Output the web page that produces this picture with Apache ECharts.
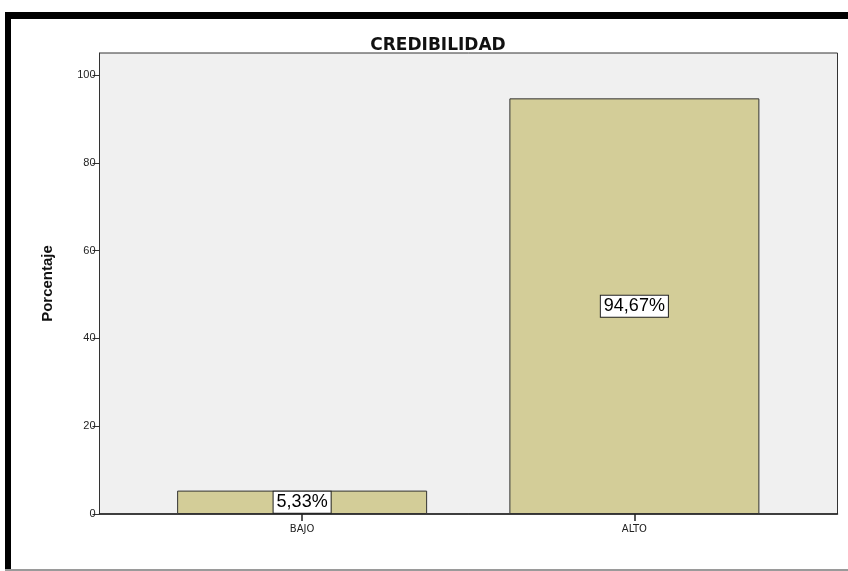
<!DOCTYPE html>
<html>
<head>
<meta charset="utf-8">
<script src="https://cdn.jsdelivr.net/npm/echarts@6/dist/echarts.min.js"></script>
<style>
  html, body { margin: 0; padding: 0; background: #fff; }
  #chart { width: 848px; height: 571px; }
</style>
</head>
<body>
<div id="chart"></div>
<script>
// Credibility levels and their share of respondents (%)
const categories = ['BAJO', 'ALTO'];
const percentages = [5.33, 94.67];
const yTicks = [0, 20, 40, 60, 80, 100];
const chartTitle = 'CREDIBILIDAD';
const yAxisTitle = 'Porcentaje';

const fmtPct = v => v.toFixed(2).replace('.', ',') + '%';

const chart = echarts.init(document.getElementById('chart'), null, { renderer: 'canvas' });

const option = {
  backgroundColor: '#ffffff',
  animation: false,
  title: {
    text: chartTitle,
    left: 433,
    top: 32,
    textAlign: 'center',
    textStyle: {
      fontFamily: 'DejaVu Sans, Liberation Sans, sans-serif',
      fontWeight: 'bold',
      fontSize: 17,
      color: '#111'
    }
  },
  graphic: [
    // frame around the output panel
    { type: 'rect', shape: { x: 5, y: 12, width: 843, height: 7 }, style: { fill: '#000' }, silent: true },
    { type: 'rect', shape: { x: 5, y: 12, width: 6, height: 559 }, style: { fill: '#000' }, silent: true },
    { type: 'rect', shape: { x: 5, y: 569, width: 843, height: 2 }, style: { fill: '#9a9a9a' }, silent: true }
  ],
  grid: [
    // panel with the gray background and frame
    { left: 99.5, right: 10.5, top: 53, bottom: 57, show: true, backgroundColor: '#f0f0f0', borderColor: '#333', borderWidth: 1, containLabel: false },
    // category band layout for the bars
    { left: 136, right: 47.5, top: 53, bottom: 57, containLabel: false }
  ],
  xAxis: [
    {
      gridIndex: 0, type: 'value', min: 0, max: 1,
      axisLine: { show: true, lineStyle: { color: '#222', width: 1.5 } },
      axisTick: { show: false }, axisLabel: { show: false }, splitLine: { show: false }
    },
    {
      gridIndex: 1, type: 'category', data: categories,
      axisLine: { show: false },
      axisTick: { show: true, alignWithLabel: true, length: 7, lineStyle: { color: '#222', width: 1.5 } },
      axisLabel: { color: '#222', fontSize: 10, fontFamily: 'DejaVu Sans, Liberation Sans, sans-serif', margin: 10 },
      splitLine: { show: false }
    }
  ],
  yAxis: [
    {
      gridIndex: 0, type: 'value', min: 0, max: 105, interval: 20,
      name: yAxisTitle,
      nameLocation: 'middle',
      nameGap: 44,
      nameTextStyle: { fontFamily: 'Liberation Sans Narrow, Arial Narrow, Liberation Sans, sans-serif', fontWeight: 'bold', fontSize: 15, color: '#111' },
      axisLine: { show: true, lineStyle: { color: '#333', width: 1 } },
      axisTick: { show: true, length: 7, customValues: yTicks, lineStyle: { color: '#333', width: 1 } },
      axisLabel: { customValues: yTicks, color: '#222', fontSize: 11, fontFamily: 'Liberation Sans, Arial, sans-serif', margin: 4 },
      splitLine: { show: false }
    },
    {
      gridIndex: 1, type: 'value', min: 0, max: 105, show: false
    }
  ],
  series: [
    {
      type: 'bar',
      xAxisIndex: 1,
      yAxisIndex: 1,
      data: percentages,
      barWidth: 250,
      itemStyle: { color: '#d3cd98', borderColor: '#333', borderWidth: 1 },
      label: {
        show: true,
        position: 'inside',
        formatter: p => fmtPct(p.value),
        color: '#000',
        fontSize: 18,
        fontFamily: 'Liberation Sans, Arial, sans-serif',
        backgroundColor: '#fff',
        borderColor: '#222',
        borderWidth: 1,
        padding: [2, 3, 1, 3]
      }
    }
  ]
};

chart.setOption(option);
</script>
</body>
</html>
